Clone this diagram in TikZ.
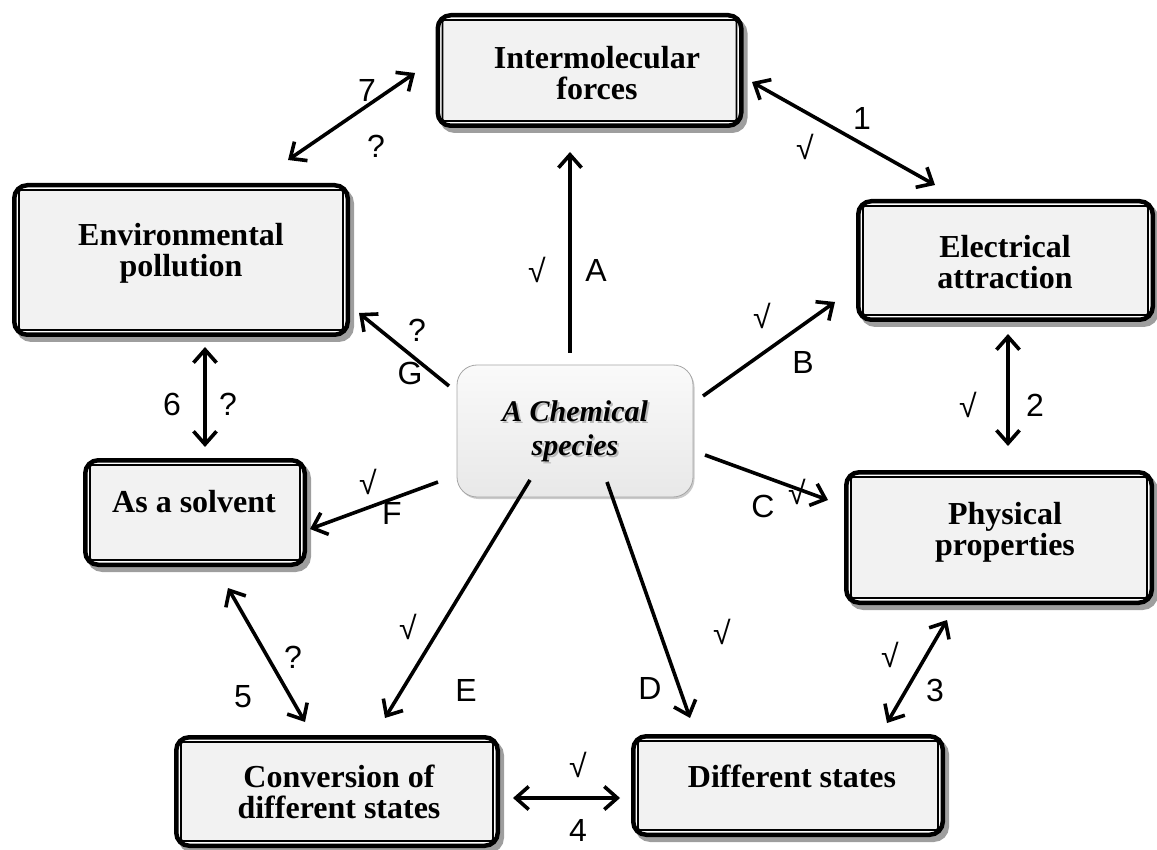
\documentclass[tikz,border=0pt]{standalone}
\usepackage{fontspec}
\setmainfont{Liberation Serif}
\newfontfamily\labfont{Liberation Sans}
\usetikzlibrary{arrows.meta,shadows}
\definecolor{boxgray}{HTML}{F2F2F2}

\tikzset{
  outerbox/.style={draw=black, line width=4.5pt, rounded corners=13pt, fill=white, inner sep=0pt,
    drop shadow={shadow xshift=4pt, shadow yshift=-5pt, opacity=1, fill=black!38, draw=black!38}},
  innerbox/.style={draw=black, line width=1.8pt, rounded corners=2pt, fill=boxgray, inner sep=0pt},
  boxtext/.style={font=\fontsize{32}{31}\selectfont\bfseries, align=center, anchor=north, inner sep=0pt},
  centerbox/.style={draw=black!35, line width=0.8pt, rounded corners=20pt, top color=black!2,
    bottom color=black!9, inner sep=0pt,
    drop shadow={shadow xshift=1.5pt, shadow yshift=-2pt, opacity=0.35, fill=black!60}},
  centertext/.style={font=\fontsize{30}{34}\selectfont\bfseries\itshape, align=center, anchor=north, inner sep=0pt},
  lab/.style={font=\labfont\fontsize{32}{32}\selectfont, inner sep=0pt},
  tip/.tip={Straight Barb[length=13pt,width=23pt]},
  link/.style={line width=3.6pt, -tip},
  dlink/.style={line width=3.6pt, tip-tip},
}

\begin{document}
\begin{tikzpicture}[x=1pt,y=-1pt]
\useasboundingbox (0,0) rectangle (1157,850);

% ---- framed boxes: thick rounded outer frame, thin inner frame ----
\node[outerbox, minimum width=303.5pt, minimum height=110.5pt] (IF) at (589.5,70.5) {};
\node[innerbox, minimum width=294pt, minimum height=101pt] (IFi) at (IF.center) {};
\node[boxtext] (IFt) at (597,46) {Intermolecular\\forces};

\node[outerbox, minimum width=333.5pt, minimum height=149.5pt] (EP) at (181,260) {};
\node[innerbox, minimum width=324pt, minimum height=140pt] (EPi) at (EP.center) {};
\node[boxtext] (EPt) at (181,223) {Environmental\\pollution};

\node[outerbox, minimum width=294.5pt, minimum height=118.5pt] (EA) at (1005.5,260.5) {};
\node[innerbox, minimum width=285pt, minimum height=109pt] (EAi) at (EA.center) {};
\node[boxtext] (EAt) at (1005,235) {Electrical\\attraction};

\node[outerbox, minimum width=305.5pt, minimum height=130.5pt] (PP) at (999,537.5) {};
\node[innerbox, minimum width=296pt, minimum height=121pt] (PPi) at (PP.center) {};
\node[boxtext] (PPt) at (1005,502) {Physical\\properties};

\node[outerbox, minimum width=219.5pt, minimum height=104.5pt] (AS) at (195,512.5) {};
\node[innerbox, minimum width=210pt, minimum height=95pt] (ASi) at (AS.center) {};
\node[boxtext] (ASt) at (194,490) {As a solvent};

\node[outerbox, minimum width=309.5pt, minimum height=98.5pt] (DS) at (788,785.5) {};
\node[innerbox, minimum width=300pt, minimum height=89pt] (DSi) at (DS.center) {};
\node[boxtext] (DSt) at (792,765) {Different states};

\node[outerbox, minimum width=321.5pt, minimum height=108.5pt] (CD) at (337,791.5) {};
\node[innerbox, minimum width=312pt, minimum height=99pt] (CDi) at (CD.center) {};
\node[boxtext] (CDt) at (339,765) {Conversion of\\different states};

% ---- central species, lettering with a soft shadow ----
\node[centerbox, minimum width=236pt, minimum height=132pt] (S) at (575,431) {};
\node[centertext, text=black!28] (Ssh) at (577,402) {A Chemical\\species};
\node[centertext] (St) at (575,400) {A Chemical\\species};

% ---- connector end points ----
\coordinate (sA) at (570,353);  \coordinate (eA) at (570,152);
\coordinate (sB) at (703,396);  \coordinate (eB) at (835,302);
\coordinate (sC) at (705,455);  \coordinate (eC) at (828,500);
\coordinate (sD) at (607,482);  \coordinate (eD) at (690,718);
\coordinate (sE) at (530,480);  \coordinate (eE) at (385,718);
\coordinate (sF) at (438,482);  \coordinate (eF) at (310,529);
\coordinate (sG) at (449,386);  \coordinate (eG) at (359,313);
\coordinate (p1) at (752,82);   \coordinate (q1) at (935,185);
\coordinate (p2) at (1008,334); \coordinate (q2) at (1008,446);
\coordinate (p3) at (947,620);  \coordinate (q3) at (887,723);
\coordinate (p4) at (513,798);  \coordinate (q4) at (620,798);
\coordinate (p5) at (228,588);  \coordinate (q5) at (305,722);
\coordinate (p6) at (205,347);  \coordinate (q6) at (205,447);
\coordinate (p7) at (415,73);   \coordinate (q7) at (288,160);

% ---- connectors from the central species ----
\draw[link] (sA) -- (eA);
\draw[link] (sB) -- (eB);
\draw[link] (sC) -- (eC);
\draw[link] (sD) -- (eD);
\draw[link] (sE) -- (eE);
\draw[link] (sF) -- (eF);
\draw[link] (sG) -- (eG);

% ---- two-way links between boxes ----
\draw[dlink] (p1) -- (q1);
\draw[dlink] (p2) -- (q2);
\draw[dlink] (p3) -- (q3);
\draw[dlink] (p4) -- (q4);
\draw[dlink] (p5) -- (q5);
\draw[dlink] (p6) -- (q6);
\draw[dlink] (p7) -- (q7);

% ---- labels ----
\node[lab] (lA) at (596,270) {A};   \node[lab] (cA) at (537,270) {√};
\node[lab] (lB) at (803,362) {B};   \node[lab] (cB) at (762,316) {√};
\node[lab] (lC) at (763,506) {C};   \node[lab] (cC) at (797,492) {√};
\node[lab] (lD) at (650,688) {D};   \node[lab] (cD) at (722,632) {√};
\node[lab] (lE) at (466,690) {E};   \node[lab] (cE) at (408,627) {√};
\node[lab] (lF) at (392,513) {F};   \node[lab] (cF) at (368,482) {√};
\node[lab] (lG) at (410,373) {G};   \node[lab] (cG) at (417,330) {?};
\node[lab] (l1) at (862,118) {1};   \node[lab] (c1) at (805,147) {√};
\node[lab] (l2) at (1035,405) {2};  \node[lab] (c2) at (968,405) {√};
\node[lab] (l3) at (935,690) {3};   \node[lab] (c3) at (890,655) {√};
\node[lab] (l4) at (578,830) {4};   \node[lab] (c4) at (578,765) {√};
\node[lab] (l5) at (243,697) {5};   \node[lab] (c5) at (293,657) {?};
\node[lab] (l6) at (172,404) {6};   \node[lab] (c6) at (228,404) {?};
\node[lab] (l7) at (367,90) {7};    \node[lab] (c7) at (376,146) {?};
\end{tikzpicture}
\end{document}
